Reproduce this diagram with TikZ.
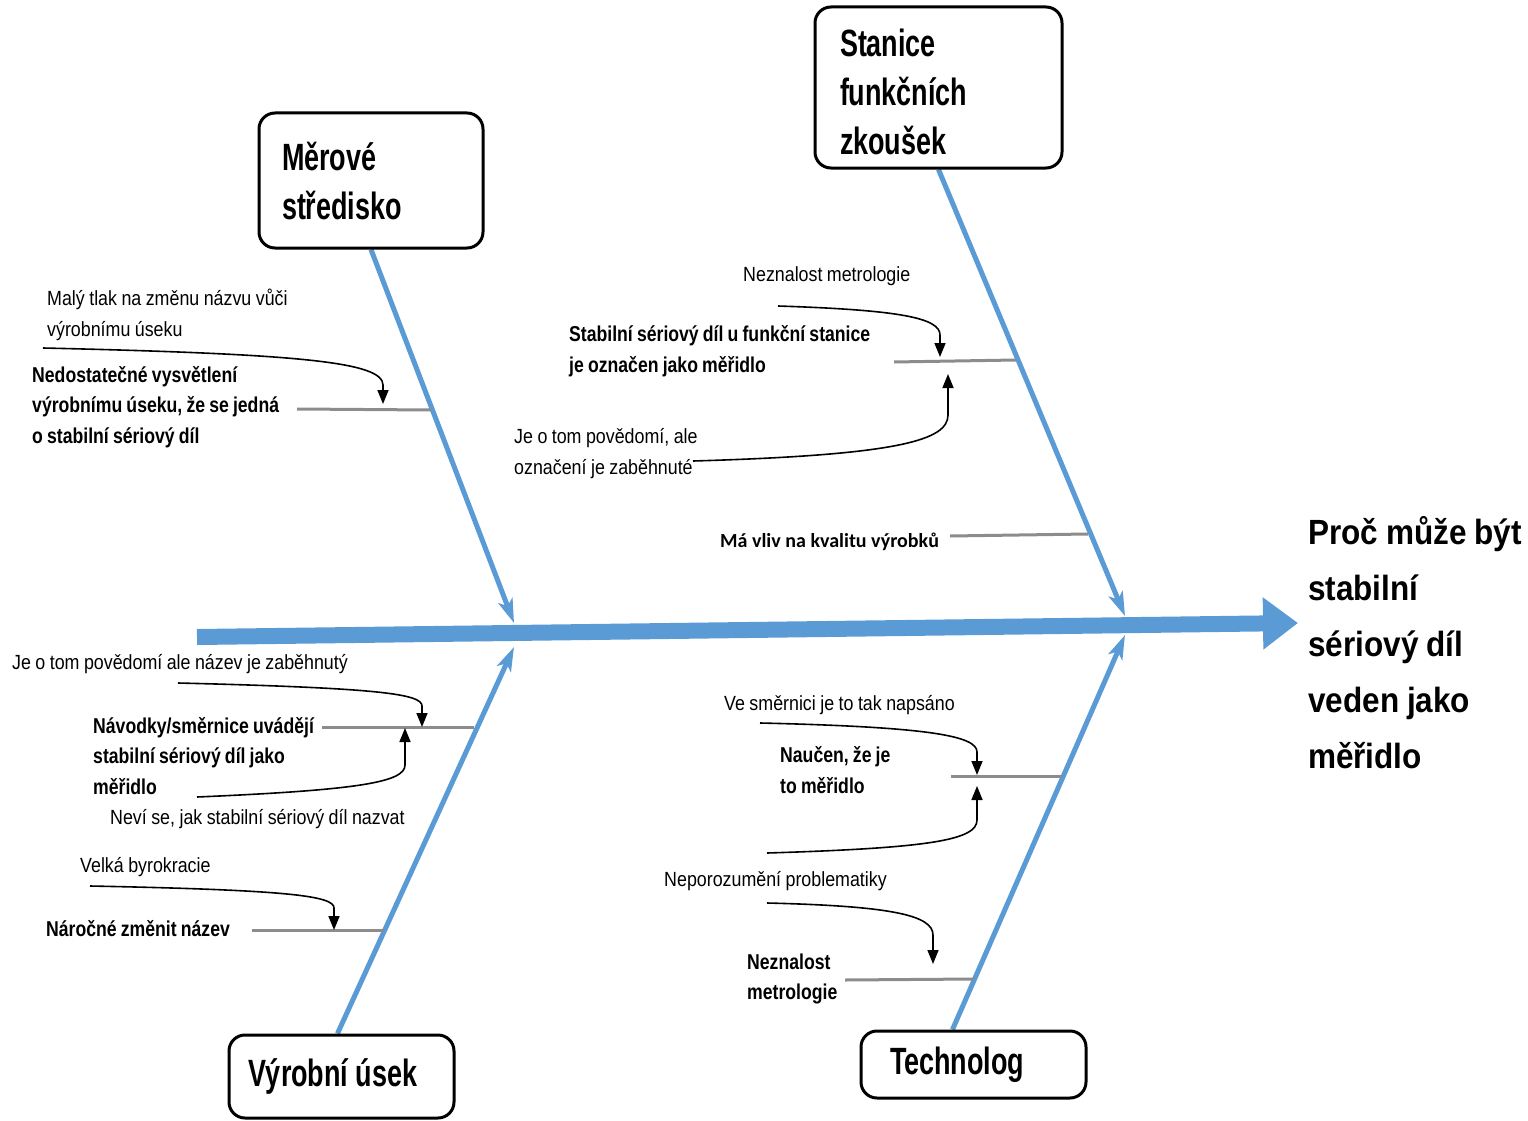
\documentclass[tikz,border=0pt]{standalone}
\usepackage{fontspec}
\setmainfont{Liberation Sans}
\newfontfamily\causefont{Liberation Sans}[FakeStretch=0.87,WordSpace=0.9]
\newfontfamily\keyfont{Liberation Sans}[FakeStretch=0.82,WordSpace=0.85]
\newfontfamily\boxfont{Liberation Sans}[FakeStretch=0.71,WordSpace=0.7]
\newfontfamily\headfont{Liberation Sans}[FakeStretch=0.9,WordSpace=0.9]
\newfontfamily\calfont{Carlito}
\usetikzlibrary{arrows.meta}

\definecolor{fishblue}{HTML}{5B9BD5}
\definecolor{ribgray}{HTML}{8C8C8C}

\tikzset{
  spine/.style={fishblue, line width=16pt, -{Triangle[length=35pt,width=50pt]}},
  bone/.style={fishblue, line width=5pt, -{Stealth[length=24pt,width=15pt,inset=6pt]}},
  rib/.style={ribgray, line width=3pt},
  pointer/.style={black, line width=1.6pt, -{Triangle[length=14pt,width=11pt]}},
  catbox/.style={draw, line width=3pt, rounded corners=16pt, fill=white,
    align=left, inner sep=0pt, font=\boxfont\bfseries\fontsize{38}{49}\selectfont},
  minor/.style={anchor=west, align=left, inner sep=0pt,
    font=\causefont\fontsize{20.5}{31}\selectfont},
  major/.style={anchor=west, align=left, inner sep=0pt,
    font=\keyfont\bfseries\fontsize{21.5}{30.5}\selectfont},
  effect/.style={anchor=west, align=left, inner sep=0pt,
    font=\headfont\bfseries\fontsize{35}{56}\selectfont}
}

\begin{document}
\begin{tikzpicture}[x=1pt,y=-1pt]
\useasboundingbox (0,0) rectangle (1528,1121);

% anchors for the category boxes (frames drawn after the bones)
\node[catbox, draw=none, fill=none, minimum width=224pt, minimum height=135pt, text width=178pt] (mer) at (371,180.5) {\phantom{M}};
\node[catbox, draw=none, fill=none, minimum width=247pt, minimum height=161pt, text width=197pt] (sta) at (938.5,87.5) {\phantom{S}};
\node[catbox, draw=none, fill=none, minimum width=225pt, minimum height=83pt, text width=187pt] (vyr) at (341.5,1076.5) {\phantom{V}};
\node[catbox, draw=none, fill=none, minimum width=225pt, minimum height=67pt, text width=167pt] (tech) at (973.5,1064.5) {\phantom{T}};

% effect
\node[effect] (eff) at (1308,643) {Proč může být\\stabilní\\sériový díl\\veden jako\\měřidlo};

% spine and bones
\coordinate (tail) at (197,637);
\coordinate (head) at (1298,623);
\coordinate (t1) at (514,623);
\coordinate (t2) at (1125,616);
\coordinate (t3) at (514,647);
\coordinate (t4) at (1125,635);
\draw[spine] (tail) -- (head);
\draw[bone] (mer.south) -- (t1);
\draw[bone] (sta.south) -- (t2);
\draw[bone] ([xshift=-4pt]vyr.north) -- (t3);
\draw[bone] ([xshift=-21pt]tech.north) -- (t4);

% category boxes
\node[catbox, minimum width=224pt, minimum height=135pt, text width=178pt] (merbox) at (mer) {Měrové\\středisko};
\node[catbox, minimum width=247pt, minimum height=161pt, text width=197pt] (stabox) at (sta) {\rule{0pt}{36pt}Stanice\\funkčních\\zkoušek};
\node[catbox, minimum width=225pt, minimum height=83pt, text width=187pt] (vyrbox) at (vyr) {Výrobní\hspace{7.5pt}úsek};
\node[catbox, minimum width=225pt, minimum height=67pt, text width=167pt] (techbox) at (tech) {Technolog};

% causes: Měrové středisko
\node[minor] (c1) at (47,315) {Malý tlak na změnu názvu vůči\\výrobnímu úseku};
\node[major] (k1) at (32,407) {Nedostatečné vysvětlení\\výrobnímu úseku, že se jedná\\o stabilní sériový díl};
\coordinate (r1a) at (297,409);
\coordinate (r1b) at (431,410);
\draw[rib] (r1a) -- (r1b);
\coordinate (p1s) at (43,348);
\coordinate (p1e) at (383,404);
\draw[pointer] (p1s) .. controls (300,354) and (383,362) .. (383,385) -- (p1e);

% causes: Stanice funkčních zkoušek
\node[minor] (c2) at (743,276) {Neznalost metrologie};
\node[major] (k2) at (569,351) {Stabilní sériový díl u funkční stanice\\je označen jako měřidlo};
\node[minor] (c3) at (514,454) {Je o tom povědomí, ale\\označení je zaběhnuté};
\coordinate (r2a) at (894,362);
\coordinate (r2b) at (1016,360);
\draw[rib] (r2a) -- (r2b);
\coordinate (p2s) at (778,306);
\coordinate (p2e) at (940,357);
\draw[pointer] (p2s) .. controls (900,310) and (940,318) .. (940,335) -- (p2e);
\coordinate (p3s) at (693,461);
\coordinate (p3e) at (948,374);
\draw[pointer] (p3s) .. controls (900,455) and (948,440) .. (948,415) -- (p3e);

\node[anchor=west, inner sep=0pt, font=\calfont\bfseries\fontsize{20}{24}\selectfont] (k3) at (720,542) {Má vliv na kvalitu výrobků};
\coordinate (r3a) at (950,536);
\coordinate (r3b) at (1088,534);
\draw[rib] (r3a) -- (r3b);

% causes: Výrobní úsek
\node[minor] (c4) at (12,664) {Je o tom povědomí ale název je zaběhnutý};
\node[major] (k4) at (93,756) {Návodky/směrnice uvádějí\\stabilní sériový díl jako\\měřidlo};
\node[minor] (c5) at (110,819) {Neví se, jak stabilní sériový díl nazvat};
\coordinate (r4a) at (322,727);
\coordinate (r4b) at (474,727);
\draw[rib] (r4a) -- (r4b);
\coordinate (p4s) at (178,683);
\coordinate (p4e) at (422,727);
\draw[pointer] (p4s) .. controls (380,688) and (422,694) .. (422,706) -- (p4e);
\coordinate (p5s) at (197,797);
\coordinate (p5e) at (405,728);
\draw[pointer] (p5s) .. controls (360,790) and (405,782) .. (405,765) -- (p5e);

\node[minor] (c6) at (80,867) {Velká byrokracie};
\node[major] (k5) at (46,929) {Náročné změnit název};
\coordinate (r5a) at (252,930);
\coordinate (r5b) at (384,930);
\draw[rib] (r5a) -- (r5b);
\coordinate (p6s) at (90,886);
\coordinate (p6e) at (334,930);
\draw[pointer] (p6s) .. controls (290,890) and (334,896) .. (334,908) -- (p6e);

% causes: Technolog
\node[minor] (c7) at (724,705) {Ve směrnici je to tak napsáno};
\node[major] (k6) at (780,770) {Naučen, že je\\to měřidlo};
\coordinate (r6a) at (951,776);
\coordinate (r6b) at (1062,776);
\draw[rib] (r6a) -- (r6b);
\coordinate (p7s) at (760,723);
\coordinate (p7e) at (977,775);
\draw[pointer] (p7s) .. controls (930,727) and (977,736) .. (977,752) -- (p7e);
\coordinate (p8s) at (767,853);
\coordinate (p8e) at (977,786);
\draw[pointer] (p8s) .. controls (930,848) and (977,840) .. (977,820) -- (p8e);

\node[minor] (c8) at (664,881) {Neporozumění problematiky};
\node[major] (k7) at (747,979) {Neznalost\\metrologie};
\coordinate (r7a) at (845,980);
\coordinate (r7b) at (974,979);
\draw[rib] (r7a) -- (r7b);
\coordinate (p9s) at (767,903);
\coordinate (p9e) at (933,964);
\draw[pointer] (p9s) .. controls (890,906) and (933,915) .. (933,935) -- (p9e);
\end{tikzpicture}
\end{document}
